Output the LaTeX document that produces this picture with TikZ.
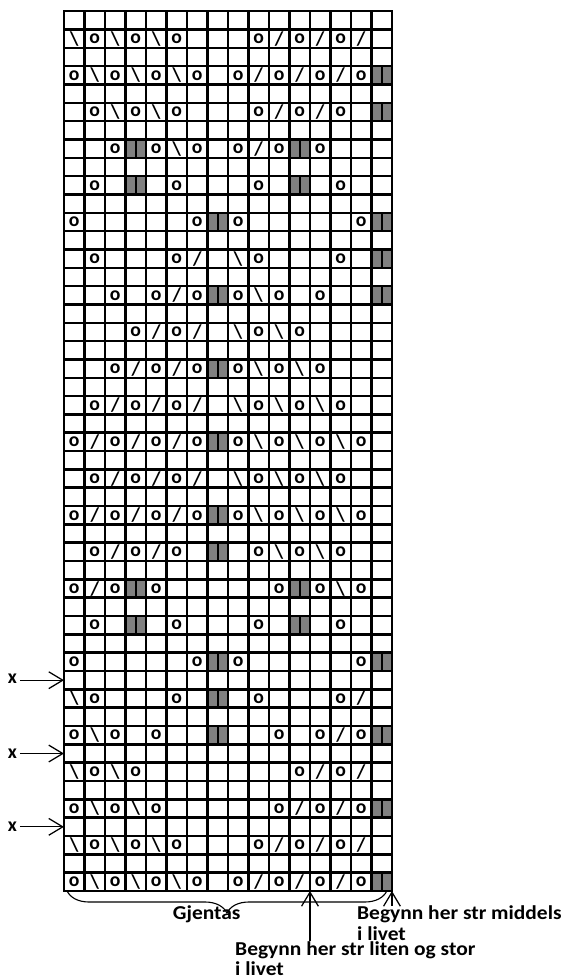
\documentclass[tikz,border=0pt]{standalone}
\usepackage{fontspec}
\setmainfont{Carlito}
\newfontfamily\notefont[FakeStretch=1.09]{Carlito}
\usepackage{tikz}
\usetikzlibrary{arrows.meta,calc,decorations.pathreplacing}
\definecolor{ChartGray}{RGB}{128,128,128}
\def\kO{o}
\def\kS{s}
\def\kB{b}
\def\kD{d}

\begin{document}
\begin{tikzpicture}[x=0.5125cm,y=0.4583cm,
    gridline/.style={line width=1.8pt, line cap=rect},
    stitch/.style={font=\bfseries\fontsize{14}{14}\selectfont, inner sep=0pt},
    twist/.style={fill=ChartGray, minimum width=0.5125cm, minimum height=0.4583cm, inner sep=0pt,
      path picture={\draw[line width=1.5pt] (path picture bounding box.north) -- (path picture bounding box.south);}},
    rowmark/.style={font=\bfseries\fontsize{14}{14}\selectfont, inner sep=2pt, anchor=east},
    note/.style={font=\notefont\bfseries\fontsize{14}{14.5}\selectfont, inner sep=0pt, align=left},
    pointer/.style={-{Straight Barb[length=3.5mm,width=4.2mm]}, line width=0.9pt}
  ]
    \useasboundingbox (-3.122,-4.746) rectangle (24.976,48.61);
    % chart rows, counted from the bottom (every second row is plain)
    \foreach \r/\cells in {
        1/{o,b,o,b,o,b,o,-,o,s,o,s,o,s,o,d},
        2/{b,o,b,o,b,o,-,-,-,o,s,o,s,o,s,-},
        3/{o,b,o,b,o,-,-,-,-,-,o,s,o,s,o,d},
        4/{b,o,b,o,-,-,-,-,-,-,-,o,s,o,s,-},
        5/{o,b,o,-,o,-,-,d,-,-,o,-,o,s,o,d},
        6/{b,o,-,-,-,o,-,d,-,o,-,-,-,o,s,-},
        7/{o,-,-,-,-,-,o,d,o,-,-,-,-,-,o,d},
        8/{-,o,-,d,-,o,-,-,-,o,-,d,-,o,-,-},
        9/{o,s,o,d,o,-,-,-,-,-,o,d,o,b,o,-},
        10/{-,o,s,o,s,o,-,d,-,o,b,o,b,o,-,-},
        11/{o,s,o,s,o,s,o,d,o,b,o,b,o,b,o,-},
        12/{-,o,s,o,s,o,s,-,b,o,b,o,b,o,-,-},
        13/{o,s,o,s,o,s,o,d,o,b,o,b,o,b,o,-},
        14/{-,o,s,o,s,o,s,-,b,o,b,o,b,o,-,-},
        15/{-,-,o,s,o,s,o,d,o,b,o,b,o,-,-,-},
        16/{-,-,-,o,s,o,s,-,b,o,b,o,-,-,-,-},
        17/{-,-,o,-,o,s,o,d,o,b,o,-,o,-,-,d},
        18/{-,o,-,-,-,o,s,-,b,o,-,-,-,o,-,d},
        19/{o,-,-,-,-,-,o,d,o,-,-,-,-,-,o,d},
        20/{-,o,-,d,-,o,-,-,-,o,-,d,-,o,-,-},
        21/{-,-,o,d,o,b,o,-,o,s,o,d,o,-,-,-},
        22/{-,o,b,o,b,o,-,-,-,o,s,o,s,o,-,d},
        23/{o,b,o,b,o,b,o,-,o,s,o,s,o,s,o,d},
        24/{b,o,b,o,b,o,-,-,-,o,s,o,s,o,s,-}} {
      \foreach \s [count=\c] in \cells {
        \ifx\s\kO \node[stitch] (o-\r-\c) at (\c-0.5,2*\r-1.5) {o};\fi
        \ifx\s\kS \node[stitch] (s-\r-\c) at (\c-0.5,2*\r-1.5) {/};\fi
        \ifx\s\kB \node[stitch] (b-\r-\c) at (\c-0.5,2*\r-1.5) {\textbackslash};\fi
        \ifx\s\kD \node[twist] (d-\r-\c) at (\c-0.5,2*\r-1.5) {};\fi
      }
    }
    % grid
    \foreach \i in {0,...,16} {\draw[gridline] (\i,0) -- (\i,48);}
    \foreach \j in {0,...,48} {\draw[gridline] (0,\j) -- (16,\j);}
    % row markers on the left
    \coordinate (g1) at (0,11.5);
    \coordinate (g2) at (0,7.5);
    \coordinate (g3) at (0,3.5);
    \node[rowmark] (x1) at (-2.15,11.6) {x};
    \node[rowmark] (x2) at (-2.15,7.5) {x};
    \node[rowmark] (x3) at (-2.15,3.5) {x};
    \draw[pointer] (x1.east |- g1) -- (g1);
    \draw[pointer] (x2) -- (g2);
    \draw[pointer] (x3) -- (g3);
    % repeat and start marks below
    \coordinate (rs) at (0.15,0);
    \coordinate (re) at (15.75,0);
    \coordinate (b12) at (12,0);
    \coordinate (b16) at (16,0);
    \draw[decorate, decoration={brace,mirror,amplitude=0.55cm}, line width=0.8pt] (rs) -- (re);
    \node[note, anchor=base west] (rep) at (5.3,-1.58) {Gjentas};
    \node[note, anchor=north west] (mid) at (14.29,-0.8) {Begynn her str middels\\i livet};
    \node[note, anchor=north west] (small) at (8.34,-2.75) {Begynn her str liten og stor\\i livet};
    \draw[pointer] (mid.north -| b16) -- (b16);
    \draw[pointer] (small.north -| b12) -- (b12);
\end{tikzpicture}
\end{document}
